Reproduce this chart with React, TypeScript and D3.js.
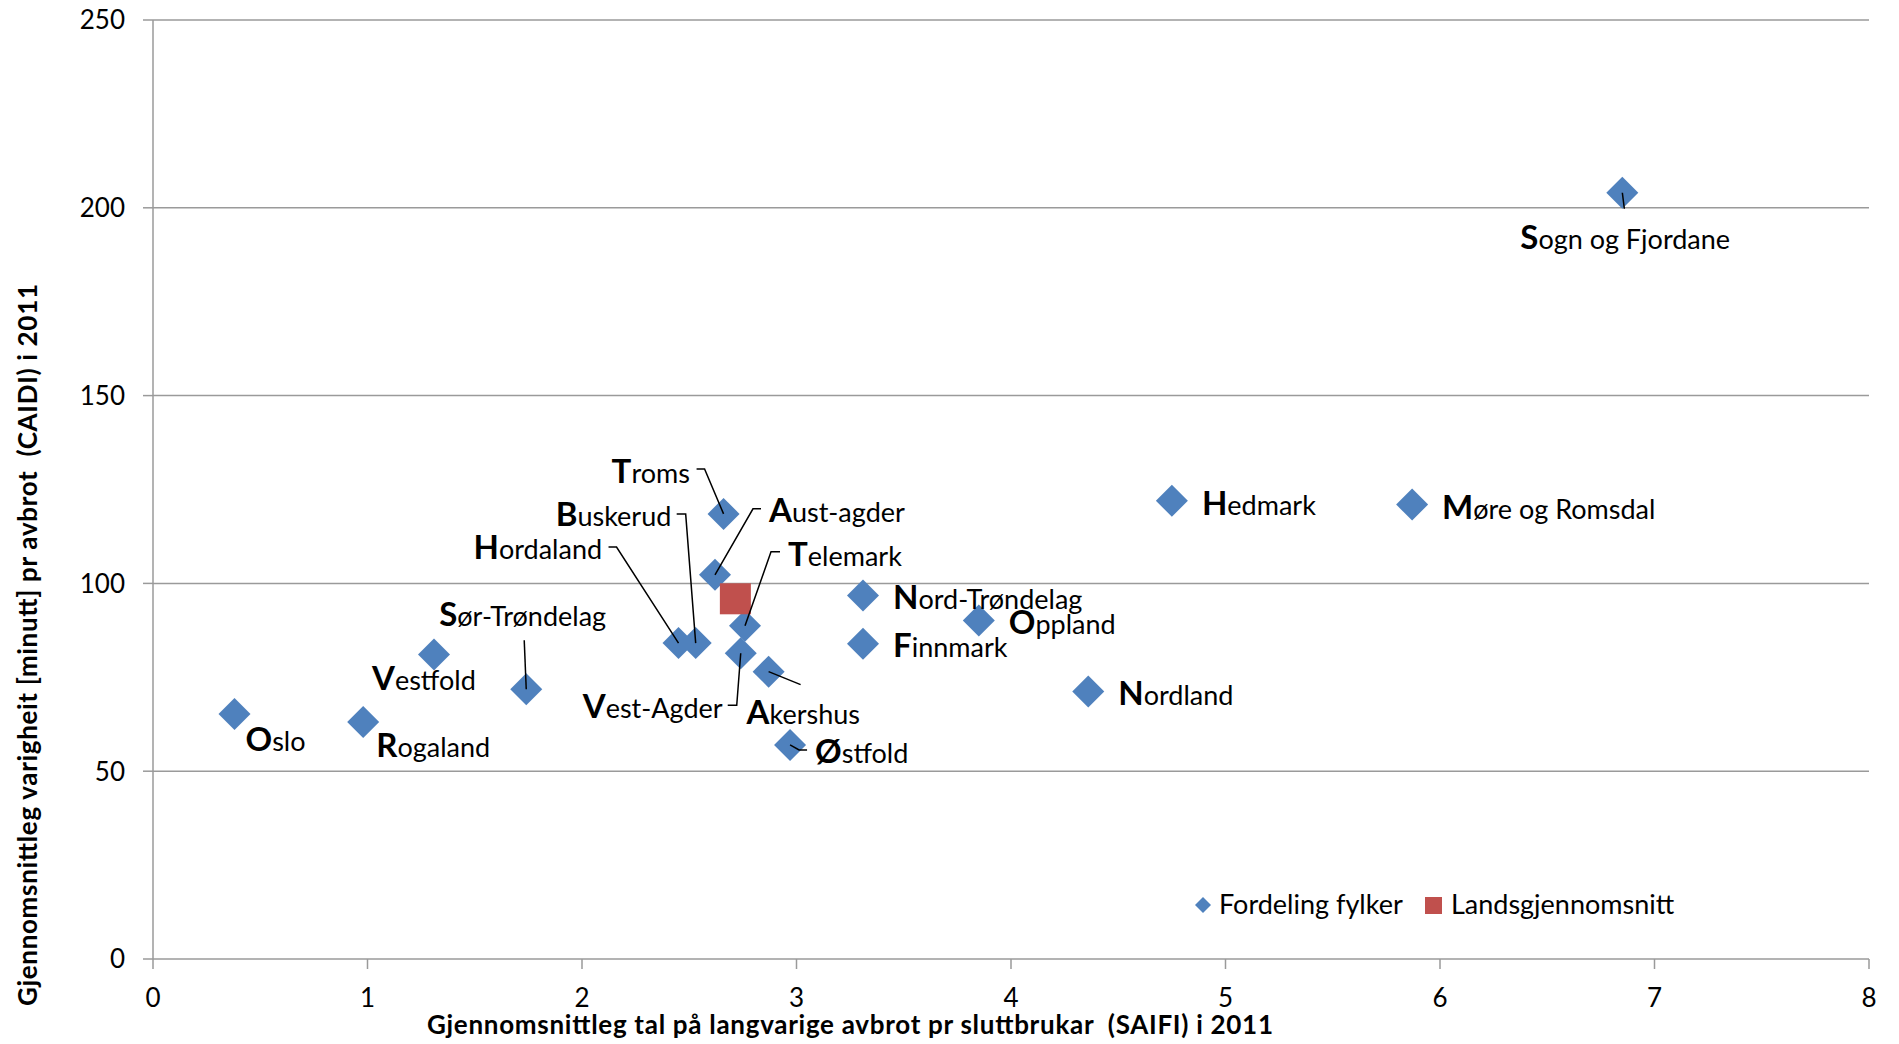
import React from "react";
import * as d3 from "d3";

// Fylke (county) values
const counties = [
  "Oslo",
  "Rogaland",
  "Vestfold",
  "Sør-Trøndelag",
  "Hordaland",
  "Buskerud",
  "Troms",
  "Aust-agder",
  "Telemark",
  "Vest-Agder",
  "Akershus",
  "Østfold",
  "Nord-Trøndelag",
  "Finnmark",
  "Oppland",
  "Nordland",
  "Hedmark",
  "Møre og Romsdal",
  "Sogn og Fjordane",
];
const saifi = [0.38, 0.98, 1.31, 1.74, 2.45, 2.53, 2.66, 2.62, 2.76, 2.74, 2.87, 2.97, 3.31, 3.31, 3.85, 4.36, 4.75, 5.87, 6.85];
const caidi = [65.2, 63.1, 81.1, 71.8, 84.1, 84.1, 118.5, 102.3, 88.7, 81.4, 76.5, 57.0, 96.8, 83.9, 90.1, 71.2, 122, 121, 204];

// Landsgjennomsnitt (national average)
const avgSaifi = [2.715];
const avgCaidi = [95.9];

const xTicks = [0, 1, 2, 3, 4, 5, 6, 7, 8];
const yTicks = [0, 50, 100, 150, 200, 250];

const legendLabels = ["Fordeling fylker", "Landsgjennomsnitt"];
const xTitle = "Gjennomsnittleg tal på langvarige avbrot pr sluttbrukar  (SAIFI) i 2011";
const yTitle = "Gjennomsnittleg varigheit [minutt] pr avbrot  (CAIDI) i 2011";

// label placement, pixel offsets from each point (same order as counties)
const labelLayout: { dx: number; dy: number; leader?: [number, number][] }[] = [
  { dx: 11, dy: 37 },
  { dx: 13, dy: 35 },
  { dx: -62, dy: 36 },
  { dx: -87, dy: -63, leader: [[0, 0], [-2, -49]] },
  { dx: -205, dy: -84, leader: [[0, 0], [-62, -96], [-70, -96]] },
  { dx: -140, dy: -117, leader: [[0, 0], [-10, -129], [-19, -129]] },
  { dx: -112, dy: -31, leader: [[0, 0], [-19, -45], [-27, -45]] },
  { dx: 54, dy: -53, leader: [[0, 0], [38, -66], [46, -66]] },
  { dx: 43, dy: -60, leader: [[0, 0], [26, -74], [35, -74]] },
  { dx: -158, dy: 65, leader: [[0, 0], [-4, 52], [-13, 52]] },
  { dx: -22, dy: 52, leader: [[0, 0], [32, 13]] },
  { dx: 25, dy: 18, leader: [[0, 0], [9, 5], [17, 5]] },
  { dx: 30, dy: 14 },
  { dx: 30, dy: 13 },
  { dx: 30, dy: 13 },
  { dx: 30, dy: 13 },
  { dx: 30, dy: 14 },
  { dx: 30, dy: 14 },
  { dx: -102, dy: 56, leader: [[0, 0], [2, 16]] },
];

const W = 1899;
const H = 1044;
const FONT = "Lato, 'Open Sans', sans-serif";
const BLUE = "#4F81BD";
const RED = "#C0504D";
const GRID = "#9A9A9A";

const diamond = (cx: number, cy: number, r: number) =>
  `M${cx},${cy - r}L${cx + r},${cy}L${cx},${cy + r}L${cx - r},${cy}Z`;

export default function App() {
  const x = d3.scaleLinear().domain([0, 8]).range([153, 1869]);
  const y = d3.scaleLinear().domain([0, 250]).range([959, 20]);
  const line = d3.line<[number, number]>();

  return (
    <svg
      width={W}
      height={H}
      style={{ position: "absolute", left: 0, top: 0, background: "#fff" }}
      fontFamily={FONT}
    >
      <rect width={W} height={H} fill="#fff" />

      {/* gridlines */}
      {yTicks.filter((t) => t > 0).map((t) => (
        <line key={t} x1={x(0)} x2={x(8)} y1={y(t)} y2={y(t)} stroke={GRID} strokeWidth={1.5} />
      ))}

      {/* y axis */}
      <line x1={x(0)} x2={x(0)} y1={y(0)} y2={y(250)} stroke={GRID} strokeWidth={1.5} />
      {yTicks.map((t) => (
        <g key={t}>
          <line x1={x(0) - 10} x2={x(0)} y1={y(t)} y2={y(t)} stroke={GRID} strokeWidth={1.5} />
          <text x={125} y={y(t)} dy="0.36em" textAnchor="end" fontSize={26} fill="#000">
            {t}
          </text>
        </g>
      ))}

      {/* x axis */}
      <line x1={x(0)} x2={x(8)} y1={y(0)} y2={y(0)} stroke={GRID} strokeWidth={1.5} />
      {xTicks.map((t) => (
        <g key={t}>
          <line x1={x(t)} x2={x(t)} y1={y(0)} y2={y(0) + 10} stroke={GRID} strokeWidth={1.5} />
          <text x={x(t)} y={1007} textAnchor="middle" fontSize={26} fill="#000">
            {t}
          </text>
        </g>
      ))}

      {/* axis titles */}
      <text
        x={850}
        y={1034}
        textAnchor="middle"
        fontSize={26}
        fontWeight="bold"
        fill="#000"
        textLength={846}
        lengthAdjust="spacing"
        style={{ whiteSpace: "pre" }}
      >
        {xTitle}
      </text>
      <text
        transform={`translate(37,645) rotate(-90)`}
        textAnchor="middle"
        fontSize={26}
        fontWeight="bold"
        fill="#000"
        textLength={722}
        lengthAdjust="spacing"
        style={{ whiteSpace: "pre" }}
      >
        {yTitle}
      </text>

      {/* county points */}
      {counties.map((c, i) => (
        <path key={c} d={diamond(x(saifi[i]), y(caidi[i]), 16)} fill={BLUE} />
      ))}

      {/* national average */}
      {avgSaifi.map((s, i) => (
        <rect
          key={i}
          x={x(s) - 15.5}
          y={y(avgCaidi[i]) - 15.5}
          width={31}
          height={31}
          fill={RED}
        />
      ))}

      {/* leader lines */}
      {counties.map((c, i) => {
        const l = labelLayout[i].leader;
        if (!l) return null;
        const px = x(saifi[i]);
        const py = y(caidi[i]);
        return (
          <path
            key={c}
            d={line(l.map(([a, b]) => [px + a, py + b]))!}
            fill="none"
            stroke="#000"
            strokeWidth={1.5}
          />
        );
      })}

      {/* labels */}
      {counties.map((c, i) => (
        <text
          key={c}
          x={x(saifi[i]) + labelLayout[i].dx}
          y={y(caidi[i]) + labelLayout[i].dy}
          fontSize={27}
          fill="#000"
        >
          <tspan fontWeight="bold" fontSize={33}>
            {c[0]}
          </tspan>
          {c.slice(1)}
        </text>
      ))}

      {/* legend */}
      <path d={diamond(1203, 905, 8)} fill={BLUE} />
      <text x={1219} y={914} fontSize={27} fill="#000">
        {legendLabels[0]}
      </text>
      <rect x={1425} y={897} width={17} height={17} fill={RED} />
      <text x={1451} y={914} fontSize={27} fill="#000">
        {legendLabels[1]}
      </text>
    </svg>
  );
}
